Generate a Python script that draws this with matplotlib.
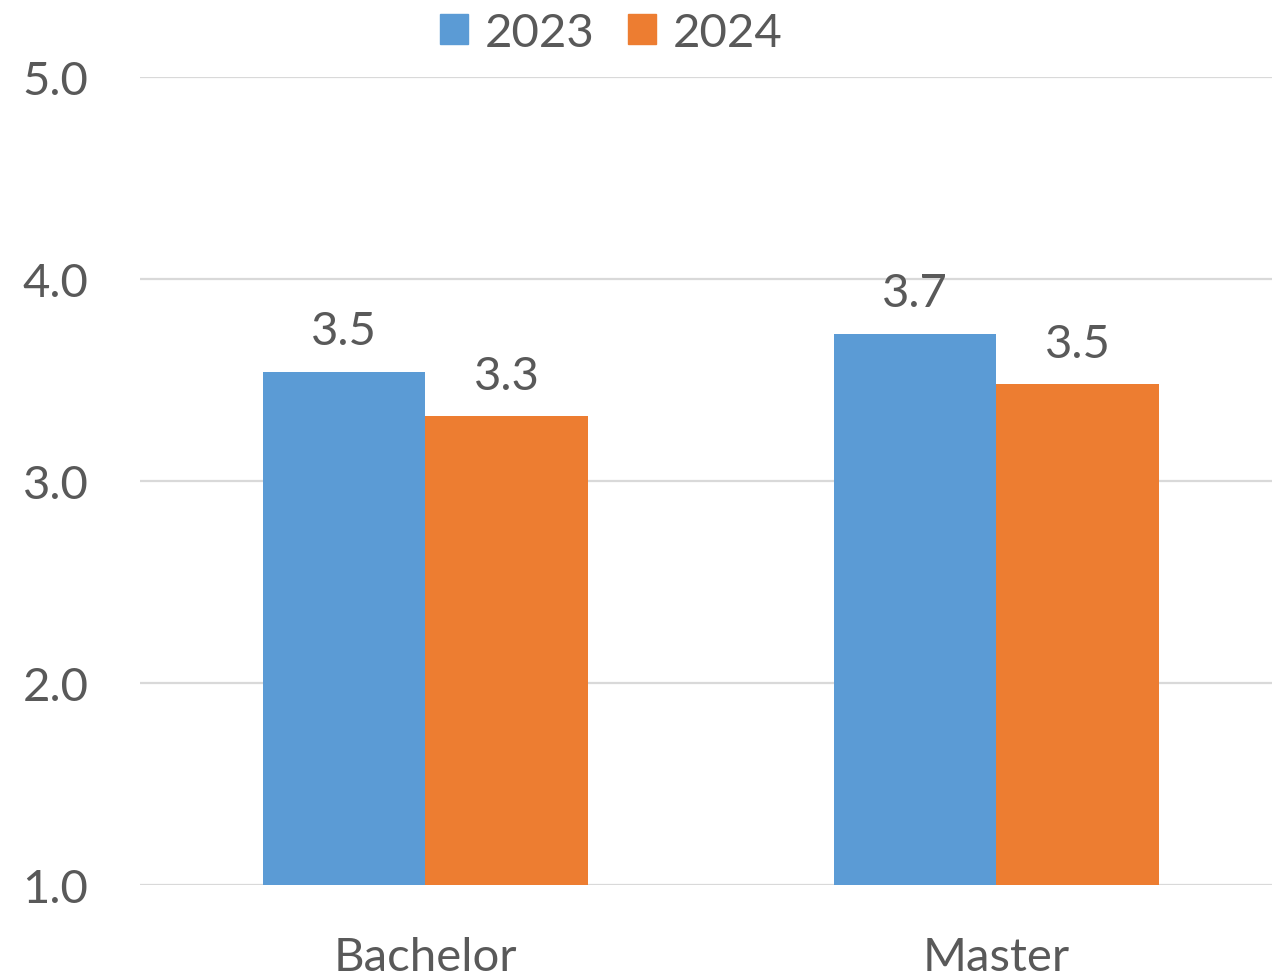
import numpy as np
import matplotlib.pyplot as plt
from matplotlib.patches import Patch

# data
categories = ["Bachelor", "Master"]
years = ["2023", "2024"]
values_2023 = [3.54, 3.73]
values_2024 = [3.32, 3.48]

colors = ["#5B9BD5", "#ED7D31"]
text_color = "#595959"
fs = 34

plt.rcParams['font.family'] = ['Lato', 'DejaVu Sans']

fig = plt.figure(figsize=(12.72, 9.78), dpi=100)
ax = fig.add_axes([0.110, 0.0941, 0.890, 0.8261])

x = np.arange(len(categories))
width = 0.285

bars1 = ax.bar(x - width / 2, np.array(values_2023) - 1, width, bottom=1,
               color=colors[0], zorder=3, label=years[0])
bars2 = ax.bar(x + width / 2, np.array(values_2024) - 1, width, bottom=1,
               color=colors[1], zorder=3, label=years[1])

# data labels with one decimal
for bars, vals in [(bars1, values_2023), (bars2, values_2024)]:
    ax.bar_label(bars, labels=[f"{v:.1f}" for v in vals], padding=14,
                 fontsize=fs, color=text_color)

ax.set_ylim(1, 5)
ax.set_xlim(-0.5, 1.483)
ax.set_yticks([1, 2, 3, 4, 5])
ax.set_yticklabels([f"{v:.1f}" for v in [1, 2, 3, 4, 5]])
ax.set_xticks(x)
ax.set_xticklabels(categories)
ax.tick_params(axis='y', length=0, pad=37, labelsize=fs, labelcolor=text_color)
ax.tick_params(axis='x', length=0, pad=37, labelsize=fs, labelcolor=text_color)

ax.grid(axis='y', color="#D9D9D9", linewidth=1.6, zorder=0)
for s in ax.spines.values():
    s.set_visible(False)

handles = [Patch(color=c) for c in colors]
fig.legend(handles, years, loc='center', bbox_to_anchor=(611 / 1272, 1 - 34 / 978),
           ncol=2, frameon=False, fontsize=fs, labelcolor=text_color,
           handlelength=0.6, handleheight=0.6, handletextpad=0.35,
           columnspacing=0.7)

fig.savefig("out.png", dpi=100)
